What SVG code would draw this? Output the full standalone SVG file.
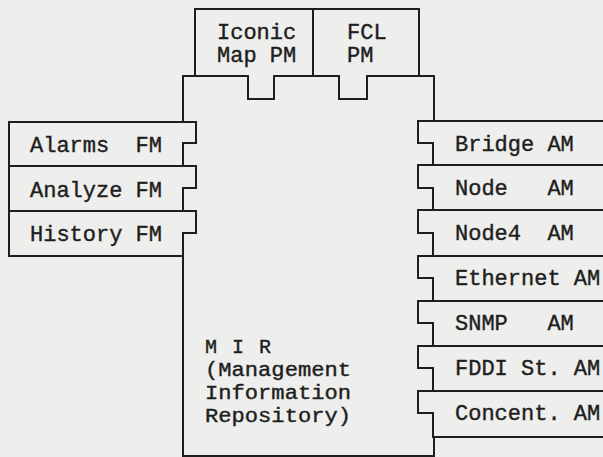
<svg xmlns="http://www.w3.org/2000/svg" width="603" height="457" viewBox="0 0 603 457">
<style>
.bg{fill:#eeeeec}
.box{fill:#eeeeec;stroke:#1e1e1e;stroke-width:2;stroke-linejoin:miter}
text{font-family:"Liberation Mono","DejaVu Sans Mono",monospace;font-size:22px;fill:#1e1e1e;stroke:#1e1e1e;stroke-width:0.4;white-space:pre}
.mir{font-size:20px}
</style>
<rect class="bg" x="0" y="0" width="603" height="457"/>
<g id="mir">
<rect class="box" x="183" y="76" width="251" height="380"/>
<text class="mir" x="205" y="353" textLength="66" lengthAdjust="spacing" xml:space="preserve">M I R</text>
<text class="mir" x="205" y="376" textLength="146" lengthAdjust="spacingAndGlyphs">(Management</text>
<text class="mir" x="205" y="399" textLength="146" lengthAdjust="spacingAndGlyphs">Information</text>
<text class="mir" x="205" y="422" textLength="146" lengthAdjust="spacingAndGlyphs">Repository)</text>
</g>
<g id="iconic-map-pm">
<path class="box" d="M195,9 H313 V76 H274 V99 H248 V76 H195 Z"/>
<text x="217" y="39">Iconic</text>
<text x="217" y="62">Map PM</text>
</g>
<g id="fcl-pm">
<path class="box" d="M313,9 H419 V76 H367 V99 H339 V76 H313 Z"/>
<text x="347" y="39">FCL</text>
<text x="347" y="62">PM</text>
</g>
<g id="alarms-fm">
<path class="box" d="M9,122 H196 V143 H183 V166 H9 Z"/>
<text x="30" y="152" xml:space="preserve">Alarms  FM</text>
</g>
<g id="analyze-fm">
<path class="box" d="M9,166 H196 V188 H183 V211 H9 Z"/>
<text x="30" y="197">Analyze FM</text>
</g>
<g id="history-fm">
<path class="box" d="M9,211 H196 V233 H183 V256 H9 Z"/>
<text x="30" y="241">History FM</text>
</g>
<g id="bridge-am">
<path class="box" d="M610,121 H418 V143 H433 V165 H610"/>
<text x="455" y="151">Bridge AM</text>
</g>
<g id="node-am">
<path class="box" d="M610,165 H418 V188 H433 V210 H610"/>
<text x="455" y="195" xml:space="preserve">Node   AM</text>
</g>
<g id="node4-am">
<path class="box" d="M610,210 H418 V233 H433 V256 H610"/>
<text x="455" y="240" xml:space="preserve">Node4  AM</text>
</g>
<g id="ethernet-am">
<path class="box" d="M610,256 H418 V278 H433 V301 H610"/>
<text x="455" y="285">Ethernet AM</text>
</g>
<g id="snmp-am">
<path class="box" d="M610,301 H418 V323 H433 V346 H610"/>
<text x="455" y="330" xml:space="preserve">SNMP   AM</text>
</g>
<g id="fddi-am">
<path class="box" d="M610,346 H418 V368 H433 V391 H610"/>
<text x="455" y="375">FDDI St. AM</text>
</g>
<g id="concent-am">
<path class="box" d="M610,391 H418 V413 H433 V437 H610"/>
<text x="455" y="420">Concent. AM</text>
</g>
<g id="connectors"></g>
</svg>
